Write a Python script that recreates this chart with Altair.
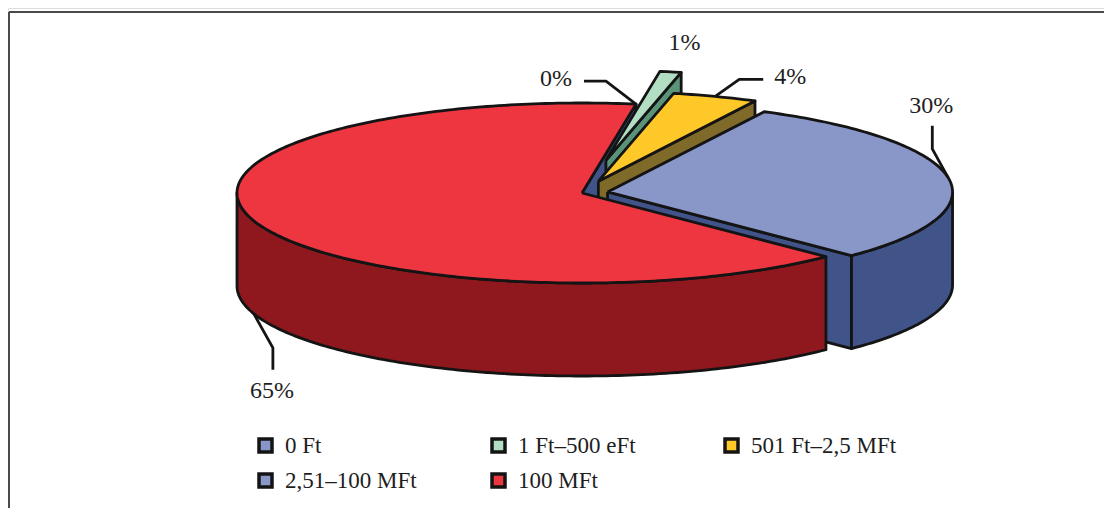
import math
import altair as alt
import pandas as pd

# ---------------- data ----------------
categories = ["0 Ft", "1 Ft–500 eFt", "501 Ft–2,5 MFt", "2,51–100 MFt", "100 MFt"]
shares = [0, 1, 4, 30, 65]
pct_labels = ["0%", "1%", "4%", "30%", "65%"]

# ---------------- styles ----------------
top_colors = ["#8896C8", "#B2DFC4", "#FFC829", "#8896C8", "#EE3641"]
side_colors = ["#41548A", "#5A9478", "#806A2A", "#41548A", "#8E181D"]
explode = [0.0, 0.37, 0.14, 0.075, 0.0]

# label leader geometry (offsets from slice rim anchor)
leader_elbow = [(-30, -23), None, (24, -17), (-16, -29), (19, 34)]
leader_end = [(-52, -23), None, (48, -17), (-16, -52), (19, 56)]
text_off = [(-80, -25), (14, -29), (75, -19), (-17, -72), (18, 77)]

# pie layout (page pixel units)
CX, CY, RX, RY, DEPTH = 582, 193, 345, 90, 93
START = -81.0
FONT = "Liberation Serif"
W, H = 1096, 500

xs = alt.Scale(domain=[8, 8 + W], nice=False, zero=False)
ys = alt.Scale(domain=[8, 8 + H], reverse=True, nice=False, zero=False)


def rim(c, t, dz=0.0):
    r = math.radians(t)
    return (c[0] + RX * math.cos(r), c[1] + RY * math.sin(r) + dz)


def arc(c, a, b, dz=0.0):
    n = max(2, int(abs(b - a)) + 1)
    return [rim(c, a + (b - a) * k / (n - 1), dz) for k in range(n)]


# slice angles and centres
slices = []
cum = 0.0
for i, s in enumerate(shares):
    t0 = START + 3.6 * cum
    t1 = t0 + 3.6 * s
    cum += s
    m = (t0 + t1) / 2
    mr = math.radians(m)
    c = (CX + explode[i] * RX * math.cos(mr), CY + explode[i] * RY * math.sin(mr))
    slices.append(dict(i=i, t0=t0, t1=t1, m=m, c=c))

radial, outer, tops = [], [], []
for sl in slices:
    i, t0, t1, c = sl["i"], sl["t0"], sl["t1"], sl["c"]
    # radial faces
    for t, normal in ((t0, t0 - 90), (t1, t1 + 90)):
        if math.sin(math.radians(normal)) > 1e-9:
            p = rim(c, t)
            pts = [c, p, (p[0], p[1] + DEPTH), (c[0], c[1] + DEPTH)]
            key = (round(math.sin(math.radians(t)), 6), 0 if t > 180 else 1)
            radial.append((key, side_colors[i], pts))
    # outer (front) side
    for lo, hi in ((0, 180), (360, 540), (-360, -180)):
        a, b = max(t0, lo), min(t1, hi)
        if b > a:
            pts = arc(c, a, b) + arc(c, b, a, DEPTH)
            outer.append((side_colors[i], pts))
    # top face
    if t1 > t0:
        pts = [c] + arc(c, t0, t1)
        tops.append((top_colors[i], pts))

radial.sort(key=lambda r: r[0])
faces = [(f, p) for _, f, p in radial] + outer + tops


def poly_layer(fill, pts):
    pts = list(pts) + [pts[0]]
    df = pd.DataFrame({"x": [p[0] for p in pts], "y": [p[1] for p in pts],
                       "i": list(range(len(pts)))})
    return alt.Chart(df).mark_line(
        fill=fill, stroke="#141414", strokeWidth=2.8, strokeJoin="round",
    ).encode(
        x=alt.X("x:Q", scale=xs, axis=None),
        y=alt.Y("y:Q", scale=ys, axis=None),
        order="i:Q",
    )


layers = []

# frame (left and top edges)
dummy = pd.DataFrame({"a": [0]})
layers.append(alt.Chart(dummy).mark_rule(color="#4a4a4a", strokeWidth=2).encode(
    x=alt.value(1), y=alt.value(4), y2=alt.value(H)))
layers.append(alt.Chart(dummy).mark_rule(color="#4a4a4a", strokeWidth=2).encode(
    x=alt.value(1), x2=alt.value(W), y=alt.value(4)))

for f, p in faces:
    layers.append(poly_layer(f, p))

# labels and leaders
lead_rows, text_rows = [], []
for sl in slices:
    i = sl["i"]
    m = sl["m"]
    dz = DEPTH if math.sin(math.radians(m)) > 0 else 0.0
    ax, ay = rim(sl["c"], m, dz)
    if leader_elbow[i] is not None:
        for k, off in enumerate([(0, 0), leader_elbow[i], leader_end[i]]):
            lead_rows.append({"lab": pct_labels[i], "i": k,
                              "x": ax + off[0], "y": ay + off[1]})
    text_rows.append({"lab": pct_labels[i], "x": ax + text_off[i][0],
                      "y": ay + text_off[i][1]})

layers.append(alt.Chart(pd.DataFrame(lead_rows)).mark_line(
    color="#141414", strokeWidth=2.8, strokeJoin="miter").encode(
    x=alt.X("x:Q", scale=xs, axis=None),
    y=alt.Y("y:Q", scale=ys, axis=None),
    detail="lab:N", order="i:Q"))

layers.append(alt.Chart(pd.DataFrame(text_rows)).mark_text(
    font=FONT, fontSize=24, color="#1e1e1e", align="center", baseline="middle").encode(
    x=alt.X("x:Q", scale=xs, axis=None),
    y=alt.Y("y:Q", scale=ys, axis=None),
    text="lab:N"))

# legend (symbols drawn off-canvas, legend itself is the visible part)
layers.append(alt.Chart(pd.DataFrame({"cat": categories})).mark_square(
    size=169, opacity=1, stroke="#141414", strokeWidth=3.5).encode(
    x=alt.value(-200), y=alt.value(-200),
    color=alt.Color("cat:N", scale=alt.Scale(domain=categories, range=top_colors),
                    legend=alt.Legend(
                        title=None, orient="none", legendX=246, legendY=426,
                        direction="horizontal",
                        columns=3, columnPadding=54, rowPadding=8, gridAlign="all",
                        symbolType="square", symbolSize=169,
                        symbolStrokeColor="#141414", symbolStrokeWidth=3.5,
                        labelFont=FONT, labelFontSize=23, labelColor="#1e1e1e",
                        labelOffset=8, labelLimit=400, padding=0))))

chart = alt.layer(*layers).properties(
    width=W, height=H, autosize=alt.AutoSizeParams(type="none"), padding=0,
).configure_view(stroke=None).configure(background="white")

chart.save("out.html", embed_options={"renderer": "svg", "actions": False})
